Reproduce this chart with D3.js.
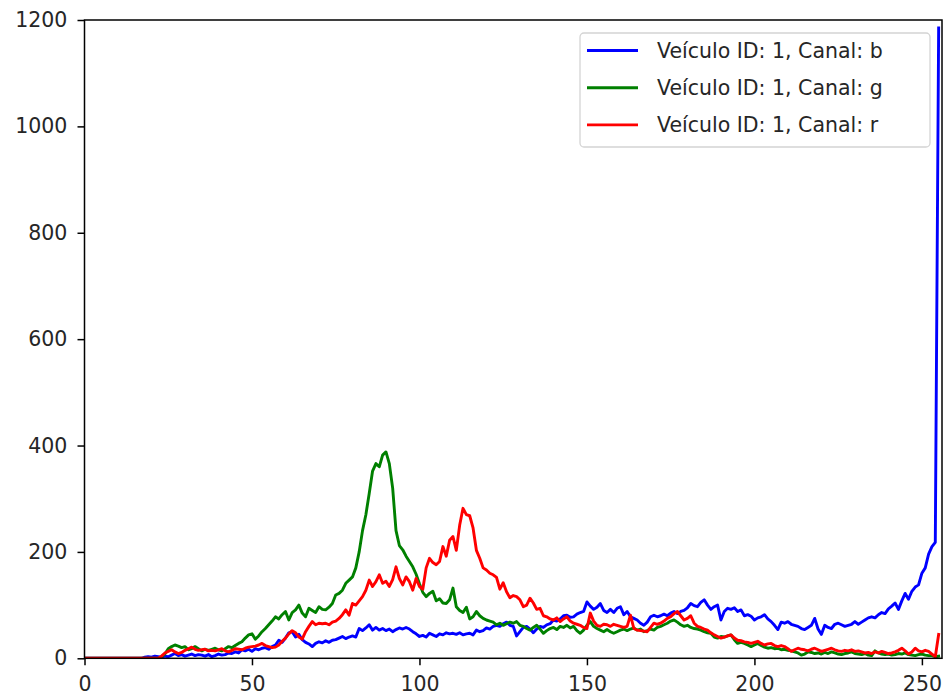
<!DOCTYPE html>
<html>
<head>
<meta charset="utf-8">
<script src="https://cdn.jsdelivr.net/npm/d3@7"></script>
<style>
html,body{margin:0;padding:0;background:#fff;}
svg{display:block;}
text{font-family:"DejaVu Sans",sans-serif;fill:#262626;}
</style>
</head>
<body>
<div id="chart"></div>
<script>
// Histogram bins 0..255
const bins = d3.range(256);

const blueValues = [
0,0,0,0,0,0,0,0,0,0, 0,0,0,0,0,0,0,0,2,3,
2,4,3,2,4,3,6,9,5,7, 4,6,8,5,7,6,4,7,3,5,
8,6,7,10,9,12,10,16,14,17, 13,18,16,19,20,17,22,25,34,30,
38,48,50,40,45,35,30,27,22,28, 31,29,33,30,34,35,38,41,37,40,
42,40,56,52,57,63,53,58,53,56, 52,55,50,54,57,55,58,55,50,46,
41,43,40,47,44,41,46,44,48,46, 47,45,48,44,46,47,44,53,50,52,
57,55,60,62,60,65,68,62,60,42, 50,58,60,55,48,55,60,58,63,65,
72,70,74,80,81,77,78,83,86,88, 106,98,92,96,103,90,86,92,86,94,
97,82,88,78,75,72,66,62,68,78, 81,78,80,83,80,85,88,84,88,90,
95,103,99,97,105,110,100,92,97,100, 72,88,94,92,95,88,91,80,82,79,
72,76,78,82,74,69,62,54,68,66, 69,64,62,60,56,54,58,62,75,55,
45,62,58,56,64,66,63,60,62,64, 69,64,68,72,76,78,76,82,86,84,
93,98,104,92,108,122,111,126,134,138, 160,170,196,210,218,1185
];

const greenValues = [
0,0,0,0,0,0,0,0,0,0, 0,0,0,0,0,0,0,0,0,0,
0,0,0,3,8,18,22,25,23,20, 22,16,18,22,18,14,17,15,17,19,
16,14,18,22,20,24,28,31,38,44, 46,36,42,50,56,63,70,78,74,82,
88,72,86,91,100,85,78,94,90,86, 97,92,91,96,103,119,122,128,141,147,
153,170,200,240,270,310,352,366,360,382, 388,366,320,240,212,204,192,182,172,158,
140,124,116,122,126,108,112,104,103,110, 132,97,90,86,96,74,78,88,80,75,
72,70,68,63,66,62,65,68,66,69, 62,60,56,53,58,62,55,47,52,56,
58,54,60,58,62,57,60,52,47,53, 62,69,60,56,53,50,54,50,47,50,
53,55,52,55,57,53,55,50,52,55, 53,58,60,63,66,70,72,68,63,60,
62,58,56,55,53,50,48,47,40,38, 41,40,42,44,35,28,30,28,25,22,
25,28,24,21,19,20,18,19,16,17, 15,14,12,10,6,8,12,11,9,10,
8,11,9,12,10,8,7,9,10,12, 9,8,7,9,6,5,14,10,8,7,
8,6,7,9,8,10,7,6,5,7, 8,6,5,5,3,4
];

const redValues = [
0,0,0,0,0,0,0,0,0,0, 0,0,0,0,0,0,0,0,0,0,
0,0,0,4,10,13,16,12,9,11, 15,18,21,17,15,16,17,14,15,14,
16,18,14,12,15,18,17,16,19,21, 22,23,25,28,24,22,20,21,25,32,
38,46,52,48,40,36,50,60,69,63, 66,65,66,63,68,70,75,82,91,81,
103,100,108,116,128,147,135,144,157,141, 145,135,148,172,150,138,153,144,128,150,
135,130,170,188,180,176,182,210,192,222, 229,203,250,282,270,268,245,203,188,170,
166,160,157,152,130,142,125,114,118,116, 110,97,100,113,104,92,94,80,78,74,
72,76,69,74,78,70,66,64,62,58, 56,85,70,62,60,64,63,60,64,62,
60,58,60,81,56,53,52,51,50,58, 66,64,66,70,75,78,84,88,80,72,
75,80,66,60,58,55,53,48,44,41, 38,40,42,44,38,34,33,31,30,28,
30,32,28,25,27,28,24,22,24,22, 18,13,16,19,17,16,14,17,19,16,
13,15,17,19,16,14,13,15,14,16, 13,14,12,10,11,9,12,10,13,11,
9,10,12,15,19,14,8,12,19,14, 12,15,13,8,3,45
];

const seriesNames = ["Veículo ID: 1, Canal: b", "Veículo ID: 1, Canal: g", "Veículo ID: 1, Canal: r"];
const seriesColors = ["#0000ff", "#008000", "#ff0000"];
const xTicks = [0, 50, 100, 150, 200, 250];
const yTicks = [0, 200, 400, 600, 800, 1000, 1200];

const W = 945, H = 696;
const mLeft = 84.5, mRight = 942, mTop = 20, mBottom = 658.3;
const fontSize = 20.5;

const svg = d3.select("#chart").append("svg").attr("width", W).attr("height", H);

const x = d3.scaleLinear().domain([0, 256]).range([mLeft, mRight]);
const y = d3.scaleLinear().domain([0, 1200]).range([mBottom, mTop]);

svg.append("defs").append("clipPath").attr("id", "clip")
  .append("rect").attr("x", mLeft).attr("y", mTop).attr("width", mRight - mLeft).attr("height", mBottom - mTop);

const series = [blueValues, greenValues, redValues];
const line = d3.line().x((d, i) => x(bins[i])).y(d => y(d));

const g = svg.append("g").attr("clip-path", "url(#clip)");
series.forEach((vals, k) => {
  g.append("path").datum(vals)
    .attr("d", line)
    .attr("fill", "none")
    .attr("stroke", seriesColors[k])
    .attr("stroke-width", 2.9)
    .attr("stroke-linejoin", "round")
    .attr("stroke-linecap", "square");
});

// Axes
const xAxis = d3.axisBottom(x).tickValues(xTicks).tickFormat(d3.format("d")).tickSize(7).tickPadding(6);
const yAxis = d3.axisLeft(y).tickValues(yTicks).tickFormat(d3.format("d")).tickSize(7).tickPadding(6);

const gx = svg.append("g").attr("transform", `translate(0,${mBottom})`).call(xAxis);
const gy = svg.append("g").attr("transform", `translate(${mLeft},0)`).call(yAxis);
[gx, gy].forEach(a => {
  a.select(".domain").remove();
  a.selectAll(".tick line").attr("stroke", "#000").attr("stroke-width", 1.5);
  a.selectAll(".tick text").attr("font-size", fontSize).attr("font-family", "DejaVu Sans").attr("fill", "#262626");
});
gx.selectAll(".tick text").attr("dy", "0.95em");
gy.selectAll(".tick text").attr("dx", "-0.2em");

// Spines
svg.append("rect").attr("x", mLeft).attr("y", mTop).attr("width", mRight - mLeft).attr("height", mBottom - mTop)
  .attr("fill", "none").attr("stroke", "#000").attr("stroke-width", 1.5);

// Legend
const lg = svg.append("g");
lg.append("rect").attr("x", 580).attr("y", 33).attr("width", 350).attr("height", 114).attr("rx", 4)
  .attr("fill", "#fff").attr("fill-opacity", 0.8).attr("stroke", "#d4d4d4").attr("stroke-width", 1.3);
seriesNames.forEach((name, k) => {
  const cy = 50.5 + k * 37.2;
  lg.append("line").attr("x1", 587).attr("x2", 638).attr("y1", cy).attr("y2", cy)
    .attr("stroke", seriesColors[k]).attr("stroke-width", 2.9);
  lg.append("text").attr("x", 657).attr("y", cy).attr("dy", "0.36em")
    .attr("font-size", fontSize).text(name);
});
</script>
</body>
</html>
